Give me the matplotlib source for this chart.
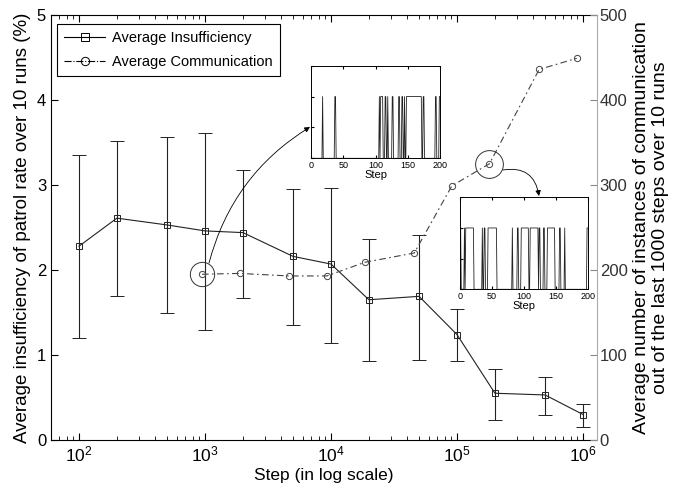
import numpy as np
import matplotlib
matplotlib.use("Agg")
import matplotlib.pyplot as plt
from matplotlib.lines import Line2D

plt.rcParams['font.family'] = ['Liberation Sans', 'DejaVu Sans']

# main series
steps = [100, 200, 500, 1000, 2000, 5000, 10000, 20000, 50000, 100000, 200000, 500000, 1000000]
insuff_mean = [2.28, 2.61, 2.53, 2.46, 2.44, 2.16, 2.07, 1.65, 1.69, 1.24, 0.55, 0.53, 0.30]
insuff_hi = [3.35, 3.52, 3.56, 3.61, 3.18, 2.95, 2.96, 2.36, 2.41, 1.54, 0.84, 0.74, 0.42]
insuff_lo = [1.20, 1.69, 1.49, 1.29, 1.67, 1.35, 1.14, 0.93, 0.94, 0.93, 0.24, 0.29, 0.15]

comm_steps = [1000, 2000, 5000, 10000, 20000, 50000, 100000, 200000, 500000, 1000000]
comm_mean = [195, 196, 193, 193, 209, 220, 299, 325, 436, 449]

# inset communication traces (runs of steps with communication)
inset1_runs = [(18, 18), (37, 38), (106, 106), (108, 111), (115, 116), (119, 119),
               (126, 127), (136, 137), (141, 142), (145, 145), (148, 171),
               (174, 175), (193, 194), (199, 200)]
inset2_runs = [(0, 1), (7, 7), (9, 21), (35, 35), (38, 39), (44, 57), (82, 82),
               (90, 91), (96, 107), (110, 122), (124, 125), (131, 132),
               (137, 148), (156, 157), (164, 164), (199, 200)]
inset_ticks = [0, 50, 100, 150, 200]

W, H = 683, 487
fig = plt.figure(figsize=(W / 100, H / 100), dpi=100)
rect = [51 / W, 47 / H, 546 / W, 425 / H]

ax = fig.add_axes(rect)
ax.set_xscale('log')
ax.set_xlim(10 ** 1.778, 10 ** 6.111)
ax.set_ylim(0, 5)
err = [np.array(insuff_mean) - np.array(insuff_lo), np.array(insuff_hi) - np.array(insuff_mean)]
ax.errorbar(steps, insuff_mean, yerr=err, color='#222222', lw=0.8, elinewidth=0.8,
            capsize=5.3, capthick=0.8, marker='s', ms=5, mfc='none', mew=0.7)
ax.set_xlabel('Step (in log scale)', fontsize=12.5, labelpad=2)
ax.set_ylabel('Average insufficiency of patrol rate over 10 runs (%)', fontsize=13.5, labelpad=4)
ax.tick_params(which='both', direction='in', top=True, right=False)
ax.tick_params(axis='x', labelsize=12.5)
ax.tick_params(axis='y', labelsize=12)
ax.tick_params(which='major', length=5)
ax.tick_params(which='minor', length=3)
ax.spines['right'].set_visible(False)
for s in ['left', 'bottom', 'top']:
    ax.spines[s].set_linewidth(0.8)

# second axes, overlaid (slightly different x range, as in the original plotyy)
ax2 = fig.add_axes(rect)
ax2.patch.set_visible(False)
ax2.set_xscale('log')
ax2.set_xlim(10 ** 1.791, 10 ** 6.162)
ax2.set_ylim(0, 500)
ax2.plot(comm_steps, comm_mean, color='#444444', lw=0.8, ls=(0, (6, 3, 1.5, 3)),
         marker='o', ms=4.5, mfc='none', mew=0.7)
ax2.xaxis.set_visible(False)
for s in ['left', 'bottom', 'top']:
    ax2.spines[s].set_visible(False)
ax2.spines['right'].set_color('#aaaaaa')
ax2.yaxis.tick_right()
ax2.yaxis.set_label_position('right')
ax2.set_yticks([0, 100, 200, 300, 400, 500])
ax2.tick_params(axis='y', direction='in', length=5, color='#888888', labelcolor='#333333',
                labelsize=12, pad=2)
ax2.set_ylabel('Average number of instances of communication\nout of the last 1000 steps over 10 runs',
               fontsize=14, rotation=90, labelpad=4, linespacing=1.1)

# highlight circles
ax2.plot([comm_steps[0]], [comm_mean[0]], 'o', ms=17.5, mfc='none', mec='#333333', mew=0.7)
ax2.plot([comm_steps[7]], [comm_mean[7]], 'o', ms=20, mfc='none', mec='#333333', mew=0.7)

# legend
handles = [Line2D([], [], color='k', lw=0.8, marker='s', ms=6, mfc='none', mew=0.7),
           Line2D([], [], color='k', lw=0.8, ls='-.', marker='o', ms=6, mfc='none', mew=0.7)]
leg = ax.legend(handles, ['Average Insufficiency', 'Average Communication'],
                loc='upper left', bbox_to_anchor=(57 / W, (H - 24) / H),
                bbox_transform=fig.transFigure, fontsize=10.5, handlelength=2.8,
                fancybox=False, framealpha=1, edgecolor='k', borderpad=0.5,
                labelspacing=0.65, handletextpad=0.5, borderaxespad=0)
leg.get_frame().set_linewidth(0.8)


def draw_inset(pos, runs):
    a = fig.add_axes(pos)
    x = np.arange(0, 201)
    y = np.zeros_like(x, dtype=float)
    for s0, s1 in runs:
        y[s0:s1 + 1] = 1
    a.plot(x, y, color='#222222', lw=0.6)
    a.set_xlim(0, 200)
    a.set_ylim(0, 1.5)
    a.set_xticks(inset_ticks)
    a.set_yticks([0, 0.5, 1, 1.5])
    a.set_yticklabels([])
    a.tick_params(direction='in', length=2.5, top=True, labelsize=6.5, pad=2)
    a.set_xlabel('Step', fontsize=8, labelpad=0)
    for sp in a.spines.values():
        sp.set_linewidth(0.7)
    return a


draw_inset([311 / W, (H - 158.3) / H, 129 / W, 92.6 / H], inset1_runs)
draw_inset([460 / W, (H - 289.3) / H, 127.7 / W, 92 / H], inset2_runs)

# arrows from circles to insets
ax2.annotate('', xy=(310, H - 127), xycoords='figure pixels',
             xytext=(209, H - 263), textcoords='figure pixels',
             arrowprops=dict(arrowstyle='-|>', color='k', lw=0.6, mutation_scale=8,
                             shrinkA=0, shrinkB=0, connectionstyle='arc3,rad=-0.2'))
ax2.annotate('', xy=(539, H - 196), xycoords='figure pixels',
             xytext=(503, H - 170), textcoords='figure pixels',
             arrowprops=dict(arrowstyle='-|>', color='k', lw=0.6, mutation_scale=8,
                             shrinkA=0, shrinkB=0, connectionstyle='arc3,rad=-0.5'))

fig.savefig('out.png', dpi=100)
